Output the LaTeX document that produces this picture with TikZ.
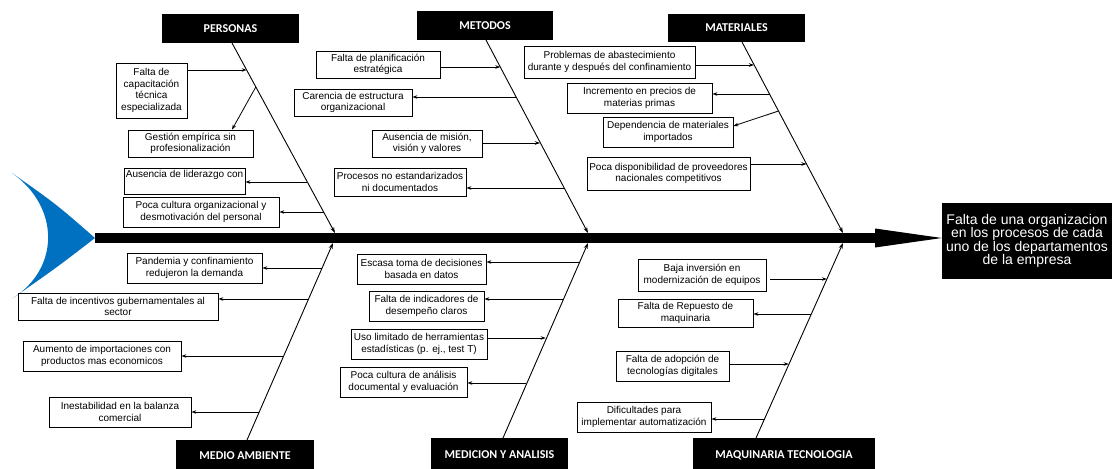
\documentclass[tikz,border=0pt]{standalone}
\usepackage{fontspec}
\setmainfont{Liberation Sans}
\newfontfamily\carlito{Carlito}
\usetikzlibrary{arrows.meta}
\definecolor{tailblue}{RGB}{0,112,192}
\newcommand{\mycause}{\fontsize{10pt}{11.5pt}\selectfont}
\newcommand{\mycat}{\carlito\bfseries\fontsize{12pt}{12pt}\selectfont}
\newcommand{\myeff}{\fontsize{14pt}{13.4pt}\selectfont}
\tikzset{
  cause/.style={draw=black, line width=0.8pt, fill=white, inner sep=0pt, align=center, font=\mycause},
  catbox/.style={fill=black, text=white, inner sep=0pt, font=\mycat},
  effbox/.style={fill=black, text=white, inner sep=0pt, align=center, font=\myeff},
  bone/.style={line width=0.9pt, -{Stealth[length=6pt,width=4pt]}},
  arr/.style={line width=0.8pt, -{Stealth[length=5pt,width=3.5pt]}},
  spine/.style={line width=10pt},
}
\begin{document}
\begin{tikzpicture}[x=1pt,y=-1pt]
\useasboundingbox (0,0) rectangle (1115,468);

% tail
\fill[tailblue] (12,173) .. controls (56,204) .. (95,238)
  .. controls (56,268) .. (13,298)
  .. controls (60,268) and (60,207) .. cycle;

% effect
\node[effbox, minimum width=170pt, minimum height=76pt] (eff) at (1027,241)
  {Falta de una organizacion\\en los procesos de cada\\uno de los departamentos\\de la empresa};

% spine
\coordinate (tailpt) at (95,238);
\coordinate (hb) at (875,238);
\draw[spine] (tailpt) -- (hb);
\fill (875,228.5) -- (eff.west |- hb) -- (875,247.5) -- cycle;

% categories
\node[catbox, minimum width=137pt, minimum height=29pt] (pers) at (230.5,28.5) {PERSONAS};
\node[catbox, minimum width=136pt, minimum height=29pt] (met) at (485,25.5) {METODOS};
\node[catbox, minimum width=137pt, minimum height=28pt] (mat) at (736.5,28) {MATERIALES};
\node[catbox, minimum width=138pt, minimum height=32pt] (medio) at (245,456) {MEDIO AMBIENTE};
\node[catbox, minimum width=137pt, minimum height=34pt] (medic) at (499.5,455) {MEDICION Y ANALISIS};
\node[catbox, minimum width=182pt, minimum height=34pt] (maq) at (784,455) {MAQUINARIA TECNOLOGIA};

% bones
\coordinate (persA) at (232,43);  \coordinate (persB) at (335,233);
\coordinate (metA) at (486,40);   \coordinate (metB) at (588,233);
\coordinate (matA) at (742,42);   \coordinate (matB) at (843,233);
\coordinate (medioA) at (247,440); \coordinate (medioB) at (333,243);
\coordinate (medicA) at (503,438); \coordinate (medicB) at (588,243);
\coordinate (maqA) at (756,438);  \coordinate (maqB) at (843,243);
\draw[bone] (persA) -- (persB);
\draw[bone] (metA) -- (metB);
\draw[bone] (matA) -- (matB);
\draw[bone] (medioA) -- (medioB);
\draw[bone] (medicA) -- (medicB);
\draw[bone] (maqA) -- (maqB);

% PERSONAS causes
\node[cause, minimum width=71pt, minimum height=55pt] (p1) at (151.5,90.5) {Falta de\\capacitación\\técnica\\especializada};
\node[cause, minimum width=125pt, minimum height=27pt] (p2) at (190.5,143.5) {Gestión empírica sin\\profesionalización};
\node[cause, minimum width=121pt, minimum height=26pt] (p3) at (184.5,181) {Ausencia de liderazgo con\\\strut};
\node[cause, minimum width=156pt, minimum height=30pt] (p4) at (201,212) {Poca cultura organizacional y\\desmotivación del personal};
\coordinate (bp1) at (246.6,70);
\coordinate (bp2) at (255.8,87);
\coordinate (bp3) at (307,182);
\coordinate (bp4) at (323.6,212);
\draw[arr] (p1.east |- bp1) -- (bp1);
\draw[arr] (bp2) -- ([xshift=41.5pt]p2.north);
\draw[arr] (bp3) -- (p3.east |- bp3);
\draw[arr] (bp4) -- (p4.east |- bp4);

% METODOS causes
\node[cause, minimum width=124pt, minimum height=27pt] (m1) at (378,64.5) {Falta de planificación\\estratégica};
\node[cause, minimum width=118pt, minimum height=27pt] (m2) at (353,102.5) {Carencia de estructura\\organizacional};
\node[cause, minimum width=110pt, minimum height=27pt] (m3) at (427,143.5) {Ausencia de misión,\\visión y valores};
\node[cause, minimum width=132pt, minimum height=28pt] (m4) at (400,182) {Procesos no estandarizados\\ni documentados};
\coordinate (bm1) at (500.3,67);
\coordinate (bm2) at (516,97);
\coordinate (bm3) at (540,143);
\coordinate (bm4) at (564,188);
\draw[arr] (m1.east |- bm1) -- (bm1);
\draw[arr] (bm2) -- (m2.east |- bm2);
\draw[arr] (m3.east |- bm3) -- (bm3);
\draw[arr] (bm4) -- (m4.east |- bm4);

% MATERIALES causes
\node[cause, minimum width=171pt, minimum height=32pt] (t1) at (609.5,62) {Problemas de abastecimiento\\durante y después del confinamiento};
\node[cause, minimum width=145pt, minimum height=30pt] (t2) at (639.5,98) {Incremento en precios de\\materias primas};
\node[cause, minimum width=130pt, minimum height=30pt] (t3) at (668,132) {Dependencia de materiales\\importados};
\node[cause, minimum width=163pt, minimum height=33pt] (t4) at (668.5,173.5) {Poca disponibilidad de proveedores\\nacionales competitivos};
\coordinate (bt1) at (754,65);
\coordinate (bt2) at (769.5,94);
\coordinate (bt3) at (778.5,111);
\coordinate (bt4) at (806.5,164);
\draw[arr] (t1.east |- bt1) -- (bt1);
\draw[arr] (bt2) -- (t2.east |- bt2);
\draw[arr] (bt3) -- ([yshift=6pt]t3.east);
\draw[arr] (t4.east |- bt4) -- (bt4);

% MEDIO AMBIENTE causes
\node[cause, minimum width=135pt, minimum height=30pt] (e1) at (194.5,268) {Pandemia y confinamiento\\redujeron la demanda};
\node[cause, minimum width=200pt, minimum height=27pt] (e2) at (118,306.5) {Falta de incentivos gubernamentales al\\sector};
\node[cause, minimum width=158pt, minimum height=30pt] (e3) at (102,356) {Aumento de importaciones con\\productos mas economicos};
\node[cause, minimum width=142pt, minimum height=30pt] (e4) at (120,412) {Inestabilidad en la balanza\\comercial};
\coordinate (be1) at (322,268);
\coordinate (be2) at (308.4,299);
\coordinate (be3) at (283.4,356);
\coordinate (be4) at (258.8,412);
\draw[arr] (be1) -- (e1.east |- be1);
\draw[arr] (be2) -- (e2.east |- be2);
\draw[arr] (be3) -- (e3.east |- be3);
\draw[arr] (be4) -- (e4.east |- be4);

% MEDICION Y ANALISIS causes
\node[cause, minimum width=129pt, minimum height=30pt] (a1) at (421.5,269) {Escasa toma de decisiones\\basada en datos};
\node[cause, minimum width=115pt, minimum height=30pt] (a2) at (426.5,306) {Falta de indicadores de\\desempeño claros};
\node[cause, minimum width=136pt, minimum height=30pt] (a3) at (419,344) {Uso limitado de herramientas\\estadísticas (p. ej., test T)};
\node[cause, minimum width=127pt, minimum height=30pt] (a4) at (403.5,382) {Poca cultura de análisis\\documental y evaluación};
\coordinate (ba1) at (579.5,262);
\coordinate (ba2) at (563,299);
\coordinate (ba3) at (545.7,338);
\coordinate (ba4) at (525.7,383);
\draw[arr] (ba1) -- (a1.east |- ba1);
\draw[arr] (ba2) -- (a2.east |- ba2);
\draw[arr] (a3.east |- ba3) -- (ba3);
\draw[arr] (ba4) -- (a4.east |- ba4);

% MAQUINARIA TECNOLOGIA causes
\node[cause, minimum width=128pt, minimum height=32pt] (q1) at (702,275) {Baja inversión en\\modernización de equipos};
\node[cause, minimum width=135pt, minimum height=28pt] (q2) at (685.5,313) {Falta de Repuesto de\\maquinaria};
\node[cause, minimum width=113pt, minimum height=30pt] (q3) at (672.5,366) {Falta de adopción de\\tecnologías digitales};
\node[cause, minimum width=134pt, minimum height=30pt] (q4) at (644,417) {Dificultades para\\implementar automatización};
\coordinate (bq1) at (826.9,279);
\coordinate (bq2) at (811,314);
\coordinate (bq3) at (788.7,364);
\coordinate (bq4) at (764,419);
\draw[arr] ([xshift=4pt]q1.east |- bq1) -- (bq1);
\draw[arr] (bq2) -- (q2.east |- bq2);
\draw[arr] (q3.east |- bq3) -- (bq3);
\draw[arr] (bq4) -- (q4.east |- bq4);
\end{tikzpicture}
\end{document}
